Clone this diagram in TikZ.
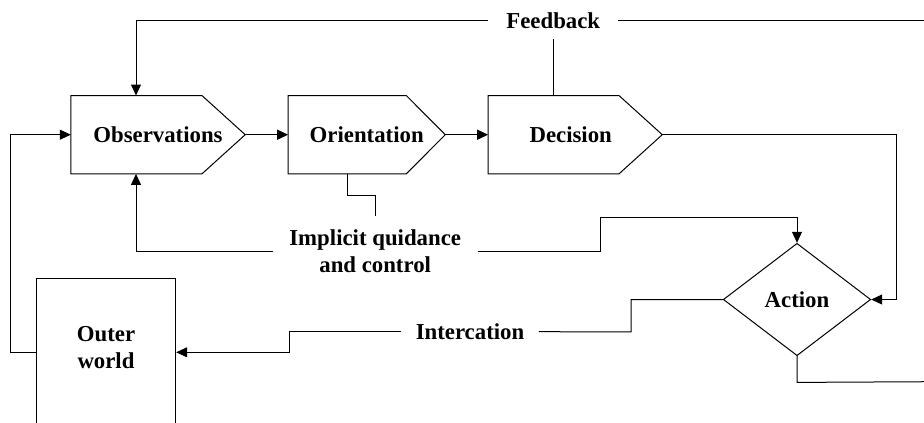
\documentclass[tikz,border=0pt]{standalone}
\usepackage{fontspec}
\setmainfont{Liberation Serif}
\usetikzlibrary{arrows.meta,calc,shapes.geometric}

% Outline of a stage box: rectangle with a pointed right end.
% #1 = node name, #2 = depth of the point
\newcommand{\stageoutline}[2]{%
  \draw[line] (#1.north west) -- ($(#1.north east)+(-#2,0)$) -- (#1.east)
    -- ($(#1.south east)+(-#2,0)$) -- (#1.south west) -- cycle;}

\begin{document}
\begin{tikzpicture}[x=1pt,y=-1pt,
  line/.style={line width=1pt,black},
  arr/.style={line,-{Triangle[length=11pt,width=10pt]}},
  txt/.style={font=\bfseries\fontsize{22.8}{26.5}\selectfont,align=center},
  stagebox/.style={txt,rectangle,inner sep=0pt,minimum height=78pt},
  label/.style={txt,inner ysep=0pt}]
\useasboundingbox (0,0) rectangle (924,423);
\clip (0,0) rectangle (924,423);

% stages
\node[stagebox,minimum width=174pt]   (obs) at (158,134.7)   {Observations};
\node[stagebox,minimum width=156.7pt] (ori) at (366.7,134.7) {Orientation};
\node[stagebox,minimum width=173.7pt] (dec) at (575.2,134.7) {\hspace*{-9pt}Decision};
\stageoutline{obs}{43.3}
\stageoutline{ori}{39}
\stageoutline{dec}{43.3}

% action diamond
\node[txt,diamond,draw,line,inner sep=0pt,minimum width=147.4pt,minimum height=112.4pt]
  (act) at (797,299.5) {Action};

% outer world box
\node[draw,line,rectangle,minimum width=139.4pt,minimum height=148.6pt] (outer) at (106,352.3) {};
\node[txt] (outerlabel) at (106,347.7) {Outer\\world};

% connector labels
\node[txt,inner xsep=18pt,inner ysep=10pt] (fb) at (553.3,20.6) {Feedback};
\node[txt,inner xsep=16.5pt,inner ysep=14pt] (impl) at (375.2,251) {Implicit quidance\\and control};
\node[txt,inner xsep=14.3pt,inner ysep=4pt] (interc) at (470,331.7) {Intercation};

% free ends at the right edge
\coordinate (fbR) at (930,19);
\coordinate (actR) at (930,381.7);

% main flow
\draw[arr] (obs.east) -- (ori.west);
\draw[arr] (ori.east) -- (dec.west);
\draw[arr] (dec.east) -- ++(234.7,0) |- (act.east);

% feedback loop
\draw[line] (fb.east) -- (fb.east -| fbR);
\draw[arr] (fb.west) -| ([xshift=-22pt]obs.north);
\draw[line] (fb.south) -- (fb.south |- dec.north);

% implicit guidance and control
\draw[line] ([xshift=-19pt]ori.south) -- ++(0,22) -| (impl.north);
\draw[arr] (impl.west) -| ([xshift=-22pt]obs.south);
\draw[arr] (impl.east) -- ++(122.4,0) -- ++(0,-33.4) -| (act.north);

% interaction with the outer world
\draw[line] (act.west) -- ++(-91.6,0) -- ++(0,32.4) -- (interc.east);
\draw[arr] (interc.west) -- ++(-111.3,0) -- ++(0,20.6) -- (outer.east);
\draw[arr] (outer.west) -- ++(-25.3,0) |- (obs.west);
\draw[line] (act.south) -- ++(0,26.2) -- (actR);
\end{tikzpicture}
\end{document}
